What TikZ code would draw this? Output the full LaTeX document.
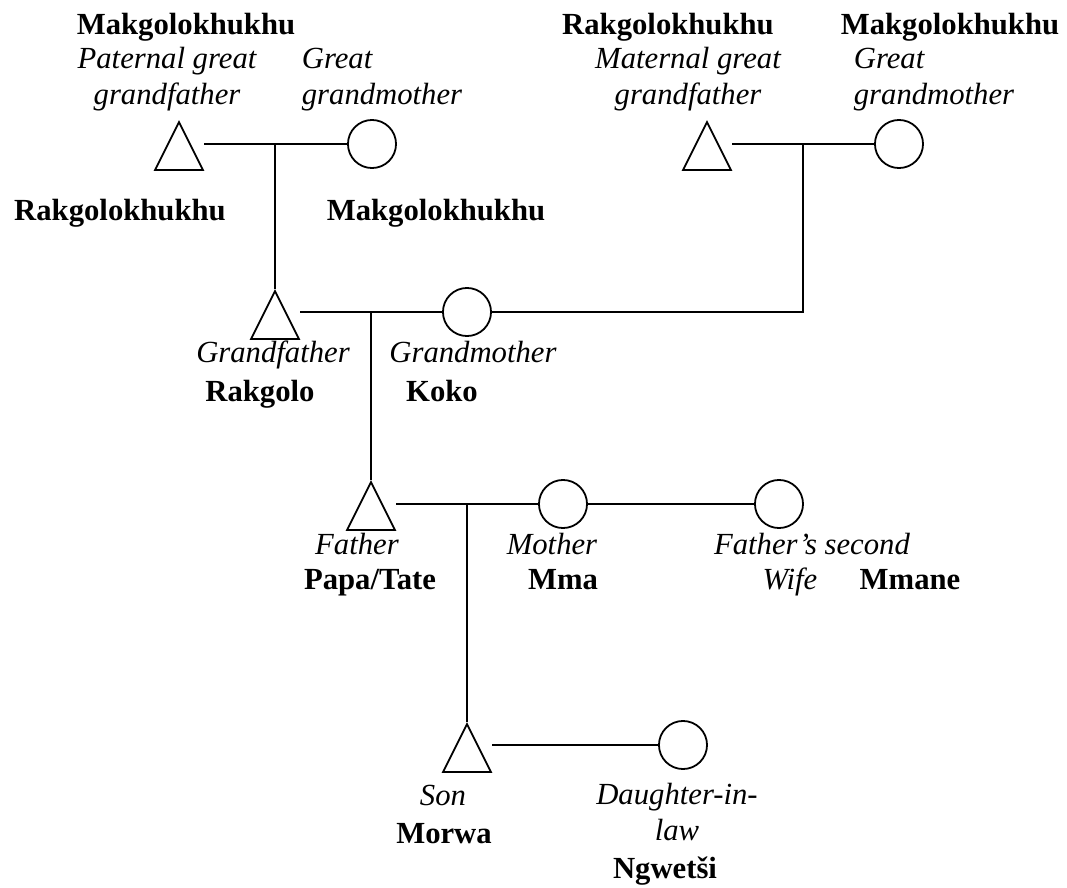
\documentclass[tikz,border=0pt]{standalone}
\usepackage{fontspec}
\setmainfont{Liberation Serif}
\usetikzlibrary{shapes.geometric}

\tikzset{
  male/.style={draw, isosceles triangle, shape border rotate=90,
    isosceles triangle apex angle=53.13, minimum width=18.8pt,
    minimum height=18.8pt, inner sep=0pt, anchor=apex},
  female/.style={draw, circle, minimum size=18.8pt, inner sep=0pt},
  role/.style={font=\fontsize{12pt}{14pt}\selectfont\itshape, inner sep=0pt, anchor=base},
  kin/.style={font=\fontsize{12pt}{14pt}\selectfont\bfseries, inner sep=0pt, anchor=base}
}

\begin{document}
\begin{tikzpicture}[x=0.391pt, y=-0.391pt, line width=0.7pt]
    \useasboundingbox (0,0) rectangle (1067,888);

    \node[male] (pggf) at (179,120) {};
    \node[female] (pggm) at (372,144) {};
    \node[kin] (pggfname) at (186,34) {Makgolokhukhu};
    \node[role, align=center] (pggfrole) at (167,104) {Paternal great\\grandfather};
    \node[role, align=left, anchor=base west] (pggmrole) at (301,104) {Great\\grandmother};
    \node[kin] (pggfkin) at (120,220) {Rakgolokhukhu};
    \node[kin] (pggmkin) at (436,220) {Makgolokhukhu};

    \node[male] (mggf) at (707,120) {};
    \node[female] (mggm) at (899,144) {};
    \node[kin] (mggfname) at (668,34) {Rakgolokhukhu};
    \node[kin] (mggmname) at (950,34) {Makgolokhukhu};
    \node[role, align=center] (mggfrole) at (688,104) {Maternal great\\grandfather};
    \node[role, align=left, anchor=base west] (mggmrole) at (853,104) {Great\\grandmother};
    \coordinate (mdrop) at (803,144);

    \node[male] (gf) at (275,289) {};
    \node[female] (gm) at (467,312) {};
    \node[role] (gfrole) at (273,362) {Grandfather};
    \node[kin] (gfname) at (260,401) {Rakgolo};
    \node[role] (gmrole) at (473,362) {Grandmother};
    \node[kin] (gmname) at (442,401) {Koko};

    \node[male] (fa) at (371,480) {};
    \node[female] (mo) at (563,504) {};
    \node[female] (fw) at (779,504) {};
    \node[role] (farole) at (357,554) {Father};
    \node[kin] (faname) at (370,589) {Papa/Tate};
    \node[role] (morole) at (552,554) {Mother};
    \node[kin] (moname) at (563,589) {Mma};
    \node[role] (fwrole) at (812,554) {Father’s second};
    \node[role] (fwrole2) at (790,589) {Wife};
    \node[kin] (fwname) at (910,589) {Mmane};

    \node[male] (so) at (467,722) {};
    \node[female] (dl) at (683,745) {};
    \node[role] (sorole) at (443,805) {Son};
    \node[kin] (soname) at (444,843) {Morwa};
    \node[role, align=center] (dlrole) at (677,840) {Daughter-in-\\law};
    \node[kin] (dlname) at (665,878) {Ngwetši};

    \draw (pggf.right corner |- pggm) -- (pggm);
    \draw (gf.apex |- pggm) -- (gf.apex);
    \draw (mggf.right corner |- mggm) -- (mggm);
    \draw (mdrop) -- (mdrop |- gm) -- (gm);
    \draw (gf.right corner |- gm) -- (gm);
    \draw (fa.apex |- gm) -- (fa.apex);
    \draw (fa.right corner |- mo) -- (mo);
    \draw (mo) -- (fw);
    \draw (so.apex |- mo) -- (so.apex);
    \draw (so.right corner |- dl) -- (dl);
\end{tikzpicture}
\end{document}
